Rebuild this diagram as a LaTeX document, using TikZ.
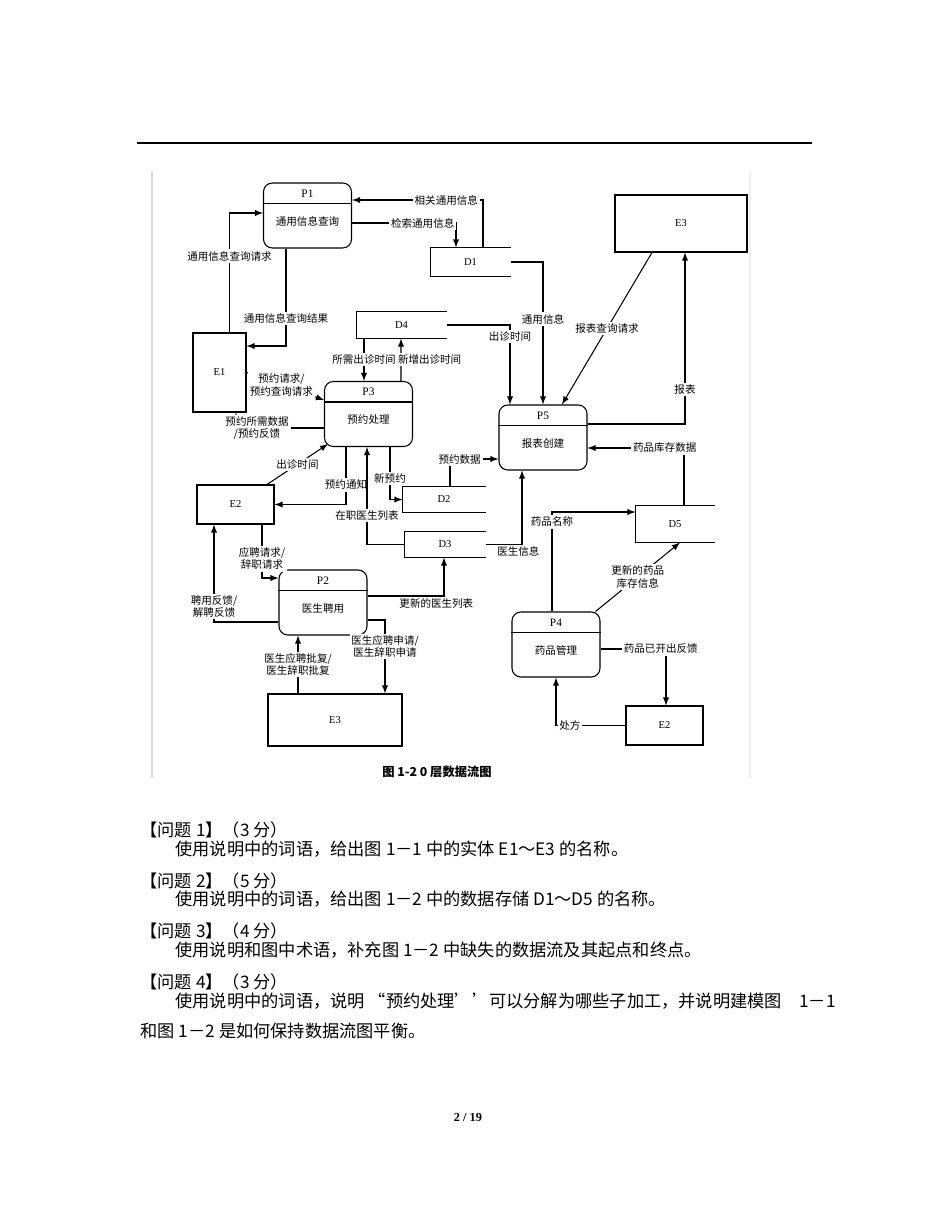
\documentclass[tikz,border=0pt]{standalone}
\usepackage{fontspec}
\setmainfont{Liberation Serif}
\newfontfamily\cjk{Noto Sans CJK SC}
\usetikzlibrary{calc}
\begin{document}
\begin{tikzpicture}[x=0.02cm, y=-0.02cm, >=latex, line width=0.6pt]
    \tikzstyle{proc}=[draw, rounded corners=5pt, minimum width=1.76cm, minimum height=1.3cm]
    \tikzstyle{ent}=[draw, font=\fontsize{6}{7}\selectfont]
    \tikzstyle{store}=[minimum height=0.52cm, font=\fontsize{6}{7}\selectfont]
    \tikzstyle{lbl}=[fill=white, inner sep=1pt, align=center, font=\cjk\fontsize{6}{7}\selectfont]
    \tikzstyle{txt}=[anchor=west, inner sep=0pt, font=\cjk\fontsize{9.8}{11}\selectfont]

    \useasboundingbox (0,0) rectangle (950,1230);
    \draw (137,143) -- (812,143);
    \draw[gray!30] (152,172) -- (152,778);
    \draw[gray!15] (750,172) -- (750,778);

    % Processus
    \foreach \n/\x/\y/\id/\t in {p1/307.5/215.5/P1/通用信息查询, p3/368.5/414/P3/预约处理,
        p5/543/437.5/P5/报表创建, p2/323/602.5/P2/医生聘用, p4/556/644.5/P4/药品管理} {
      \node[proc] (\n) at (\x,\y) {};
      \draw ($(\n.north west)+(0,21)$) -- ($(\n.north east)+(0,21)$);
      \node[font=\fontsize{6.5}{7}\selectfont] at ($(\n.north)+(0,11)$) {\id};
      \node[lbl, fill=none] at ($(\n.north)+(0,39)$) {\t};
    }

    % Entites
    \node[ent, minimum width=2.64cm, minimum height=1.14cm] (e3a) at (681,223.5) {E3};
    \node[ent, minimum width=1.06cm, minimum height=1.58cm] (e1) at (219.5,372.5) {E1};
    \node[ent, minimum width=1.54cm, minimum height=0.78cm] (e2a) at (235.5,504.5) {E2};
    \node[ent, minimum width=2.68cm, minimum height=1.04cm] (e3b) at (335,720) {E3};
    \node[ent, minimum width=1.54cm, minimum height=0.78cm] (e2b) at (664.5,725.5) {E2};

    % Stockages
    \foreach \n/\x/\y/\w/\h/\t in {d1/470.5/262/1.58/0.56/D1, d4/401.5/325/1.78/0.52/D4,
        d2/444/499.5/1.64/0.5/D2, d3/445/544.5/1.6/0.5/D3, d5/675/524/1.56/0.72/D5} {
      \node[store, minimum width=\w cm, minimum height=\h cm] (\n) at (\x,\y) {\t};
      \draw (\n.north east) -- (\n.north west) -- (\n.south west) -- (\n.south east);
    }

    % Flux
    \draw[->] ($(e1.north)+(10,0)$) |- node[lbl, pos=0.32]{通用信息查询请求} ($(p1.west)+(0,-2.5)$);
    \draw[->] ($(p1.south)+(-21.5,0)$) |- node[lbl, pos=0.36]{通用信息查询结果} ($(e1.east)+(0,-26.5)$);
    \draw[->] ($(d1.north)+(12.5,0)$) |- node[lbl, pos=0.64]{相关通用信息} ($(p1.east)+(0,-15.5)$);
    \draw[->] ($(p1.east)+(0,7.5)$) -| node[lbl, pos=0.34]{检索通用信息} ($(d1.north)+(-14.5,0)$);
    \draw[->] (d1.east) -| node[lbl, pos=0.7]{通用信息} (p5.north);
    \draw[->] (d4.east) -| node[lbl, pos=0.57]{出诊时间} ($(p5.north)+(-33,0)$);
    \draw[->] ($(e3a.south)+(-29,0)$) -- node[lbl]{报表查询请求} ($(p5.north)+(19,0)$);
    \draw[->] ($(p5.east)+(0,-13.5)$) -| node[lbl, pos=0.6]{报表} ($(e3a.south)+(4,0)$);
    \draw[->] ($(d5.north)+(9,0)$) |- node[lbl, pos=0.6]{药品库存数据} ($(p5.east)+(0,10.5)$);
    \draw[->] ($(d2.north)+(6,0)$) |- node[lbl, pos=0.6]{预约数据} ($(p5.west)+(0,21.5)$);
    \draw[->] (d3.east) -| node[lbl, fill=none, pos=0.45, below]{医生信息} ($(p5.south)+(-21,0)$);
    \draw[->] ($(d4.south)+(-37.5,0)$) -- node[lbl]{所需出诊时间} ($(p3.north)+(-4.5,0)$);
    \draw[->] ($(p3.north)+(32.5,0)$) -- node[lbl, right, xshift=-3pt]{新增出诊时间} ($(d4.south)+(-0.5,0)$);
    \draw[->] (e1.east) -- node[lbl, pos=0.45]{预约请求/\\预约查询请求} ($(p3.west)+(0,-14)$);
    \draw[->] ($(p3.west)+(0,14)$) -| node[lbl, pos=0.38]{预约所需数据\\/预约反馈} ($(e1.south)+(16.5,0)$);
    \draw[->] ($(e2a.north)+(31.5,0)$) -- node[lbl]{出诊时间} ($(p3.south west)+(4,-3)$);
    \draw[->] ($(p3.south)+(-22.5,0)$) |- node[lbl, pos=0.33]{预约通知} (e2a.east);
    \draw[->] ($(p3.south)+(21.5,0)$) |- node[lbl, pos=0.3]{新预约} (d2.west);
    \draw[->] (d3.west) -| node[lbl, pos=0.65]{在职医生列表} ($(p3.south)+(-1.5,0)$);
    \draw[->] ($(e2a.south)+(26.5,0)$) |- node[lbl, pos=0.32]{应聘请求/\\辞职请求} ($(p2.west)+(0,-24.5)$);
    \draw[->] ($(p2.west)+(0,19.5)$) -| node[lbl, pos=0.58]{聘用反馈/\\解聘反馈} ($(e2a.south)+(-21.5,0)$);
    \draw[->] ($(p2.east)+(0,-6.5)$) -| node[lbl, fill=none, pos=0.45, below]{更新的医生列表} ($(d3.south)+(-1,0)$);
    \draw[->] ($(p2.east)+(0,17.5)$) -| node[lbl, pos=0.68]{医生应聘申请/\\医生辞职申请} ($(e3b.north)+(50,0)$);
    \draw[->] ($(e3b.north)+(-37,0)$) -- node[lbl]{医生应聘批复/\\医生辞职批复} ($(p2.south)+(-25,0)$);
    \draw[->] ($(p4.north)+(-4,0)$) |- node[lbl, pos=0.45]{药品名称} ($(d5.west)+(0,-12)$);
    \draw[->] ($(p4.north east)+(-5,0)$) -- node[lbl]{更新的药品\\库存信息} ($(d5.south)+(5,0)$);
    \draw[->] ($(p4.east)+(0,4.5)$) -| node[lbl, pos=0.46]{药品已开出反馈} ($(e2b.north)+(1.5,0)$);
    \draw[->] (e2b.west) -| node[lbl, pos=0.4]{处方} (p4.south);

    \node[font=\cjk\bfseries\fontsize{7}{8}\selectfont] (caption) at (437,772) {图 1-2 0 层数据流图};

    % Questions
    \node[txt] (q1) at (140,830) {【问题 1】（3 分）};
    \node[txt] (q1t) at (175,849) {使用说明中的词语，给出图 1－1 中的实体 \textit{E1}～\textit{E3} 的名称。};
    \node[txt] (q2) at (140,881) {【问题 2】（5 分）};
    \node[txt] (q2t) at (175,899) {使用说明中的词语，给出图 1－2 中的数据存储 \textit{D1}～\textit{D5} 的名称。};
    \node[txt] (q3) at (140,931) {【问题 3】（4 分）};
    \node[txt] (q3t) at (175,950) {使用说明和图中术语，补充图 1－2 中缺失的数据流及其起点和终点。};
    \node[txt] (q4) at (140,982) {【问题 4】（3 分）};
    \node[txt] (q4t) at (175,1001) {使用说明中的词语，说明 “预约处理’’可以分解为哪些子加工，并说明建模图\quad 1－1};
    \node[txt] (q4u) at (140,1031) {和图 1－2 是如何保持数据流图平衡。};
    \node[font=\bfseries\fontsize{7}{8}\selectfont] (page) at (468,1117) {2 / 19};
\end{tikzpicture}
\end{document}
